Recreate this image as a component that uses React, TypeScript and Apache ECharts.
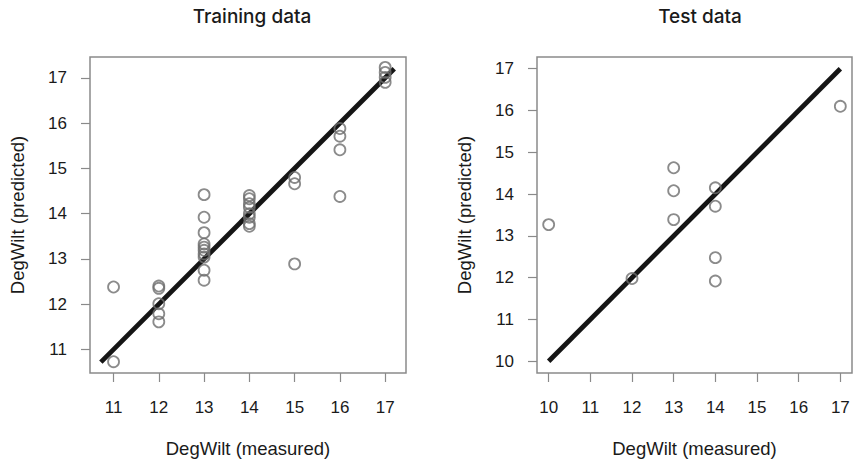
import React, { useEffect, useRef } from "react";
import * as echarts from "echarts";

const trainMeasured = [
  11, 11,
  12, 12, 12, 12, 12,
  13, 13, 13, 13, 13, 13, 13, 13, 13, 13,
  14, 14, 14, 14, 14, 14, 14, 14,
  15, 15, 15,
  16, 16, 16, 16,
  17, 17, 17, 17,
];
const trainPredicted = [
  12.38, 10.73,
  12.4, 12.35, 12.01, 11.79, 11.61,
  14.42, 13.92, 13.58, 13.33, 13.26, 13.19, 13.11, 13.04, 12.75, 12.53,
  14.4, 14.33, 14.22, 14.14, 14.0, 13.92, 13.78, 13.72,
  14.8, 14.66, 12.89,
  15.88, 15.71, 15.41, 14.38,
  17.23, 17.12, 17.01, 16.9,
];
const trainLineX = [10.72, 17.2];
const trainLineY = [10.72, 17.2];

const testMeasured = [10, 12, 13, 13, 13, 14, 14, 14, 14, 17];
const testPredicted = [13.27, 11.98, 14.63, 14.08, 13.39, 14.15, 13.71, 12.48, 11.92, 16.1];
const testLineX = [10, 17];
const testLineY = [10, 17];

const trainTicks = [11, 12, 13, 14, 15, 16, 17];
const testTicks = [10, 11, 12, 13, 14, 15, 16, 17];

const titles = ["Training data", "Test data"];
const xName = "DegWilt (measured)";
const yName = "DegWilt (predicted)";

const FONT = "'Liberation Sans', Arial, sans-serif";
const TEXT = "#1a1a1a";
const BORDER = "#8a8a8a";

function zip(a: number[], b: number[]) {
  return a.map((v, i) => [v, b[i]]);
}

function makeAxis(gridIndex: number, min: number, max: number, ticks: number[], isX: boolean) {
  return {
    type: "value",
    gridIndex,
    min,
    max,
    name: isX ? xName : yName,
    nameLocation: "middle",
    nameGap: isX ? 66 : 63,
    nameTextStyle: { fontFamily: FONT, fontSize: 18.5, color: TEXT },
    axisLine: { show: false },
    axisTick: {
      show: true,
      inside: false,
      length: 9,
      customValues: ticks,
      lineStyle: { color: BORDER, width: 1.2 },
    },
    axisLabel: {
      show: true,
      customValues: ticks,
      margin: isX ? 26 : 23,
      fontFamily: FONT,
      fontSize: 17,
      color: TEXT,
    },
    splitLine: { show: false },
  };
}

export default function App() {
  const ref = useRef<HTMLDivElement>(null);
  useEffect(() => {
    document.body.style.margin = "0";
    if (!ref.current) return;
    const chart = echarts.init(ref.current, undefined, { renderer: "svg" });
    const scatterStyle = {
      type: "scatter",
      symbol: "circle",
      symbolSize: 11,
      itemStyle: { color: "rgba(0,0,0,0)", borderColor: "#6e6e6e", borderWidth: 1.8 },
      z: 3,
    };
    const lineStyle = {
      type: "line",
      symbol: "none",
      lineStyle: { color: "#151515", width: 4.8 },
      z: 2,
    };
    const titleStyle = { fontFamily: "Inter, " + FONT, fontSize: 19, fontWeight: 500, color: TEXT };
    chart.setOption({
      animation: false,
      backgroundColor: "#ffffff",
      title: [
        { text: titles[0], left: 247, top: 2, textAlign: "center", textStyle: titleStyle },
        { text: titles[1], left: 695, top: 2, textAlign: "center", textStyle: titleStyle },
      ],
      grid: [
        { left: 90, top: 57, width: 316, height: 316, show: true, borderColor: BORDER, borderWidth: 1.5, backgroundColor: "transparent" },
        { left: 537, top: 57, width: 315, height: 316, show: true, borderColor: BORDER, borderWidth: 1.5, backgroundColor: "transparent" },
      ],
      xAxis: [
        makeAxis(0, 10.48, 17.46, trainTicks, true),
        makeAxis(1, 9.72, 17.28, testTicks, true),
      ],
      yAxis: [
        makeAxis(0, 10.48, 17.46, trainTicks, false),
        makeAxis(1, 9.72, 17.28, testTicks, false),
      ],
      series: [
        { ...lineStyle, xAxisIndex: 0, yAxisIndex: 0, data: zip(trainLineX, trainLineY) },
        { ...scatterStyle, xAxisIndex: 0, yAxisIndex: 0, data: zip(trainMeasured, trainPredicted) },
        { ...lineStyle, xAxisIndex: 1, yAxisIndex: 1, data: zip(testLineX, testLineY) },
        { ...scatterStyle, xAxisIndex: 1, yAxisIndex: 1, data: zip(testMeasured, testPredicted) },
      ],
    });
    return () => chart.dispose();
  }, []);
  return <div ref={ref} style={{ width: 854, height: 464 }} />;
}
